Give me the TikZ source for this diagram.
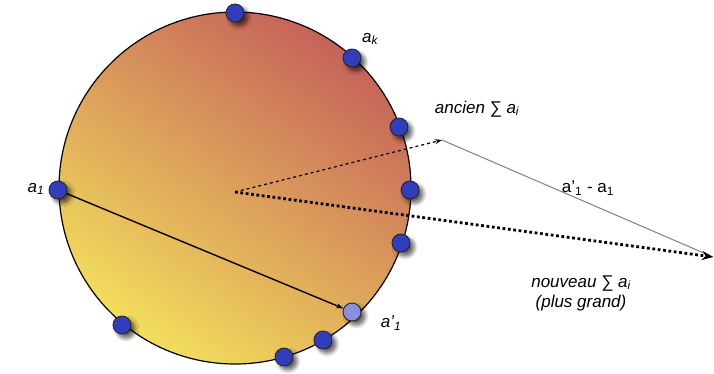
\documentclass[tikz,border=0pt]{standalone}
\usepackage{fontspec}
\setmainfont{Liberation Sans}
\usetikzlibrary{arrows.meta,shadows.blur}
\definecolor{dotblue}{RGB}{48,62,190}
\definecolor{dotlight}{RGB}{136,144,226}
\definecolor{discred}{RGB}{198,98,90}
\definecolor{discmid}{RGB}{220,150,90}
\definecolor{discyel}{RGB}{242,222,92}
\begin{document}
\begin{tikzpicture}[x=1pt,y=-1pt,
  dot/.style={circle,draw=black!85,line width=0.9pt,fill=dotblue,minimum size=18pt,inner sep=0pt,
    blur shadow={shadow xshift=4pt,shadow yshift=-4pt,shadow blur radius=4pt,shadow blur steps=8,shadow opacity=65}},
  lbl/.style={font=\fontsize{17}{20}\selectfont\itshape},
  plain/.style={font=\fontsize{17}{20}\selectfont},
  tip/.style={-{Stealth[length=7pt,width=5pt]}}]
\useasboundingbox (0,0) rectangle (714,374);
\shade[shading=axis,top color=discred,middle color=discmid,bottom color=discyel,shading angle=-35] (235,188) circle (176);
\draw[line width=1.2pt] (235,188) circle (176);
\coordinate (O) at (235,192);
\coordinate (old) at (442,140);
\coordinate (new) at (713,257);
% dots
\node[dot] (d1) at (235,13) {};
\node[dot] (ak) at (352,58) {};
\node[dot] (d3) at (399,127) {};
\node[dot] (d4) at (410,190) {};
\node[dot] (d5) at (401,243) {};
\node[dot] (d7) at (323,340) {};
\node[dot] (d8) at (284,357) {};
\node[dot] (d9) at (122,325) {};
\node[dot] (a1) at (58,190) {};
\node[dot,fill=dotlight] (a1p) at (352,312) {};
% vectors
\draw[line width=1.4pt,tip] (a1) -- (a1p);
\draw[line width=1.2pt,dashed,tip] (O) -- (old);
\draw[line width=1pt,gray] (old) -- (new);
\draw[line width=2.8pt,dash pattern=on 2.8pt off 2.6pt,-{Stealth[length=11pt,width=9pt]}] (O) -- (new);
% labels
\node[lbl] (lak) at (370,39) {a\textsubscript{k}};
\node[lbl] (lold) at (477,109) {ancien ∑ a\textsubscript{i}};
\node[plain] (ldiff) at (588,188) {a’\textsubscript{1} - a\textsubscript{1}};
\node[lbl,align=center] (lnew) at (581,293) {nouveau ∑ a\textsubscript{i}\\(plus grand)};
\node[lbl] (la1) at (36,189) {a\textsubscript{1}};
\node[lbl] (la1p) at (391,323) {a’\textsubscript{1}};
\end{tikzpicture}
\end{document}
